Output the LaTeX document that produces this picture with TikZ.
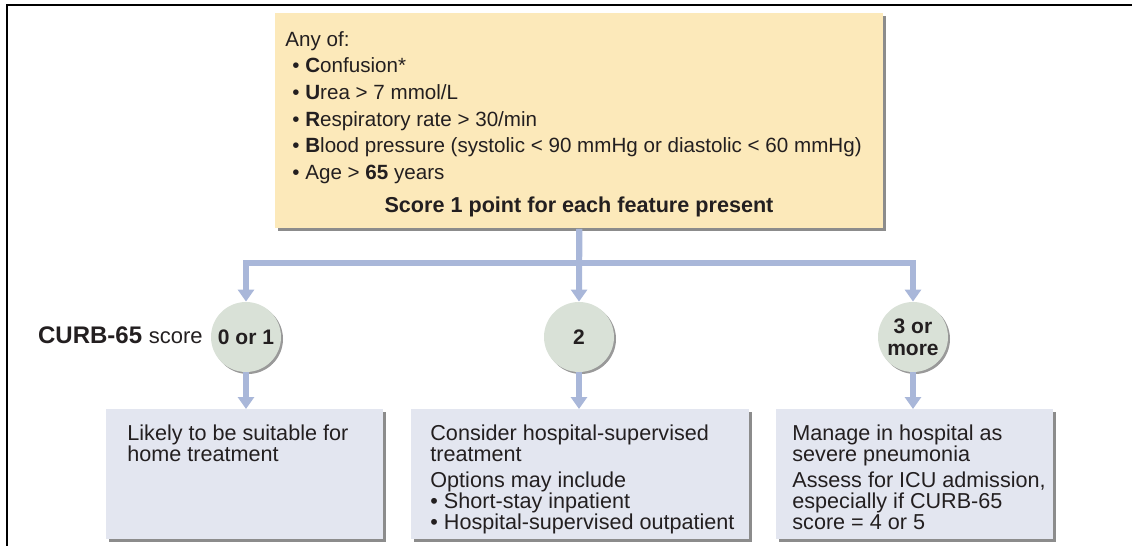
\documentclass[tikz,border=0pt]{standalone}
\usepackage{fontspec}
\setmainfont{Liberation Sans}
\usetikzlibrary{arrows.meta,shadows}
\definecolor{boxyellow}{HTML}{FCE9BA}
\definecolor{boxblue}{HTML}{E3E6F0}
\definecolor{circgreen}{HTML}{D9E1D7}
\definecolor{linkblue}{HTML}{A9B7D9}
\definecolor{ink}{HTML}{231F20}

\begin{document}
\begin{tikzpicture}[x=0.5pt,y=-0.5pt, every node/.style={text=ink,inner sep=0pt},
	box/.style={fill=#1,anchor=north west,minimum height=65pt,
		drop shadow={shadow xshift=1.4pt,shadow yshift=-1.4pt,fill=black!45,opacity=1}},
	score/.style={circle,fill=circgreen,minimum size=35pt,align=center,
		font=\fontsize{10.5}{11}\selectfont\bfseries,
		drop shadow={shadow xshift=1pt,shadow yshift=-1pt,fill=black!40,opacity=1}},
	txt/.style={anchor=north west,align=left,font=\fontsize{10.8}{10.5}\selectfont},
	conn/.style={draw=linkblue,line width=3pt,-{Triangle[length=6pt,width=8pt]}}]
	\useasboundingbox (0,0) rectangle (1132,546);
	\draw [line width=1.1pt] (7,546) -- (7,5) -- (1132,5);
	\node [box=boxyellow,minimum width=304pt,minimum height=107.5pt] (top) at (275,13) {};
	\node [anchor=north west,align=left,font=\fontsize{10.3}{13.3}\selectfont] (crit) at (285,31) {Any of:\\
		\hspace*{3.5pt}\textbullet\ \textbf{C}onfusion*\\
		\hspace*{3.5pt}\textbullet\ \textbf{U}rea > 7 mmol/L\\
		\hspace*{3.5pt}\textbullet\ \textbf{R}espiratory rate > 30/min\\
		\hspace*{3.5pt}\textbullet\ \textbf{B}lood pressure (systolic < 90 mmHg or diastolic < 60 mmHg)\\
		\hspace*{3.5pt}\textbullet\ Age > \textbf{65} years};
	\node [font=\fontsize{10.8}{13}\selectfont\bfseries] (pts) at (579,207) {Score 1 point for each feature present};
	\node [score] (c1) at (246,337) {0 or 1};
	\node [score] (c2) at (579,337) {2};
	\node [score] (c3) at (913,337) {3 or\\more};
	\node [anchor=base east] (lab) at (203,343) {\fontsize{12}{14}\selectfont\textbf{CURB-65} \fontsize{11}{13}\selectfont score};
	\node [box=boxblue,minimum width=138.5pt] (b1) at (106,409) {};
	\node [box=boxblue,minimum width=169pt] (b2) at (411,409) {};
	\node [box=boxblue,minimum width=138.5pt] (b3) at (776,409) {};
	\node [txt] (t1) at (127,424) {Likely to be suitable for\\home treatment};
	\node [txt] (t2) at (430,424) {Consider hospital-supervised\\treatment\\[2.8pt]Options may include\\\textbullet\ Short-stay inpatient\\\textbullet\ Hospital-supervised outpatient};
	\node [txt] (t3) at (792,424) {Manage in hospital as\\severe pneumonia\\[2.8pt]Assess for ICU admission,\\especially if CURB-65\\score = 4 or 5};
	\draw [conn] (top.south) -- ++(0,34) -| (c1.north);
	\draw [conn] (top.south) -- (c2.north);
	\draw [conn] (top.south) -- ++(0,34) -| (c3.north);
	\draw [conn] (c1.south) -- (c1.south |- b1.north);
	\draw [conn] (c2.south) -- (c2.south |- b2.north);
	\draw [conn] (c3.south) -- (c3.south |- b3.north);
\end{tikzpicture}
\end{document}
